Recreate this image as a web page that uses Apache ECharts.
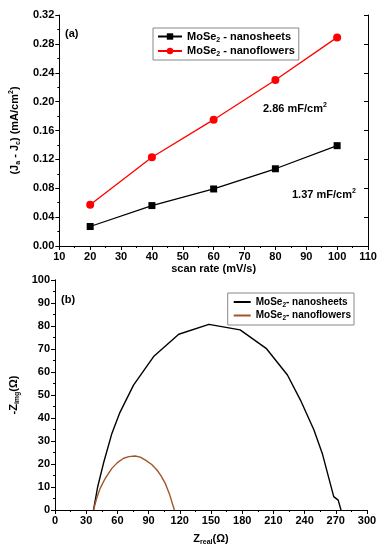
<!DOCTYPE html>
<html><head><meta charset="utf-8">
<script src="https://cdn.jsdelivr.net/npm/echarts@6/dist/echarts.min.js"></script>
<style>html,body{margin:0;padding:0;background:#fff}#c{width:391px;height:550px}</style>
</head><body><div id="c"></div>
<script>
// Panel (a): double-layer capacitance
const scanRates = [20, 40, 60, 80, 100];
const sheetsCdl = [0.027, 0.056, 0.079, 0.107, 0.139];
const flowersCdl = [0.057, 0.123, 0.175, 0.230, 0.289];
// Panel (b): Nyquist plots [Zreal, -Zimg]
const sheetsNyq = [[37,0],[41,10],[46.6,20.3],[54.7,33.3],[62,42],[75.5,54.3],[94.8,66.7],[119,76.4],[148,80.7],[178,78.3],[203,70.3],[223.5,58.7],[236,47.8],[249,34.8],[257,24.6],[268,5.8],[272.3,4.3],[275,0]];
const flowersNyq = [[37,0],[40,5],[43.4,9.4],[48,13.5],[54.7,18.1],[60,20.6],[66,22.5],[71,23.2],[77,23.5],[82,23],[87,21.7],[93,19.8],[98,17.4],[102,14.8],[106,11.6],[110,7],[114.8,0]];
const labelsA = ['2.86 mF/cm', '1.37 mF/cm'];

const FF = 'Liberation Sans';
const base = {fontFamily: FF, fontWeight: 'bold', color: '#000', fontSize: 11};
const rich = {
  n: {fontFamily: FF, fontWeight: 'bold', fontSize: 11, color: '#000', lineHeight: 14},
  s: {fontFamily: FF, fontWeight: 'bold', fontSize: 7, color: '#000', verticalAlign: 'bottom', lineHeight: 14, padding:[4,0,0,0]},
  p: {fontFamily: FF, fontWeight: 'bold', fontSize: 7, color: '#000', verticalAlign: 'top', lineHeight: 14, padding:[0,0,4,0]}
};
const richSmall = {
  n: {fontFamily: FF, fontWeight: 'bold', fontSize: 10, color: '#000', lineHeight: 13},
  s: {fontFamily: FF, fontWeight: 'bold', fontSize: 6.5, color: '#000', verticalAlign: 'bottom', lineHeight: 13, padding:[4,0,0,0]}
};
const axisLine = {show: true, lineStyle: {color: '#000', width: 1}};

function mainAxis(o) {
  return Object.assign({
    type: 'value', axisLine: axisLine,
    axisTick: {show: true, inside: false, length: 4, lineStyle: {color: '#000'}},
    minorTick: {show: true, splitNumber: 2, length: 2, lineStyle: {color: '#000'}},
    splitLine: {show: false},
    axisLabel: Object.assign({margin: 5}, base),
    nameLocation: 'middle', nameTextStyle: Object.assign({rich: rich}, base)
  }, o);
}
function mirror(o) {
  return Object.assign({
    type: 'value', axisLine: axisLine,
    axisTick: {show: true, inside: true, length: 4, lineStyle: {color: '#000'}},
    axisLabel: {show: false}, splitLine: {show: false}
  }, o);
}
const nameMap = {
  'MoSe2 - nanosheets': '{n|MoSe}{s|2}{n| - nanosheets}',
  'MoSe2 - nanoflowers': '{n|MoSe}{s|2}{n| - nanoflowers}',
  'MoSe2- nanosheets': '{n|MoSe}{s|2}{n|- nanosheets}',
  'MoSe2- nanoflowers': '{n|MoSe}{s|2}{n|- nanoflowers}'
};
const legendCommon = {
  orient: 'vertical', backgroundColor: '#fff', borderColor: '#888', borderWidth: 1,
  formatter: n => nameMap[n]
};

const option = {
  animation: false,
  grid: [
    {left: 55, right: 23, top: 15, bottom: 304},
    {left: 55, right: 24, top: 280, bottom: 40}
  ],
  xAxis: [
    mainAxis({gridIndex: 0, min: 10, max: 110, interval: 10, name: 'scan rate (mV/s)', nameGap: 17}),
    mainAxis({gridIndex: 1, min: 0, max: 300, interval: 30, name: '{n|Z}{s|real}{n|(Ω)}', nameGap: 22}),
    mirror({gridIndex: 0, min: 10, max: 110, interval: 10, position: 'top'}),
    mirror({gridIndex: 1, min: 0, max: 300, interval: 30, position: 'top'})
  ],
  yAxis: [
    mainAxis({gridIndex: 0, min: 0, max: 0.32, interval: 0.04, axisLabel: Object.assign({margin: 5, formatter: v => v.toFixed(2)}, base),
      name: '{n|(J}{s|a}{n| - J}{s|c}{n|) (mA/cm}{p|2}{n|)}', nameGap: 34}),
    mainAxis({gridIndex: 1, min: 0, max: 100, interval: 10, name: '{n|-Z}{s|img}{n|(Ω)}', nameGap: 28}),
    mirror({gridIndex: 0, min: 0, max: 0.32, interval: 0.04, position: 'right'}),
    mirror({gridIndex: 1, min: 0, max: 100, interval: 10, position: 'right'})
  ],
  legend: [
    Object.assign({left: 153, top: 28, padding: [3, 4, 2, 4], itemGap: 2, itemWidth: 24, itemHeight: 8,
      textStyle: Object.assign({rich: rich}, base),
      data: ['MoSe2 - nanosheets', 'MoSe2 - nanoflowers']}, legendCommon),
    Object.assign({right: 37, top: 293, padding: [4, 3, 3, 6], itemGap: 2, itemWidth: 17, itemHeight: 2,
      textStyle: Object.assign({rich: richSmall}, base, {fontSize: 10}),
      data: [{name: 'MoSe2- nanosheets', icon: 'rect'}, {name: 'MoSe2- nanoflowers', icon: 'rect'}]}, legendCommon)
  ],
  series: [
    {name: 'MoSe2 - nanosheets', type: 'line', xAxisIndex: 0, yAxisIndex: 0,
      data: scanRates.map((x, i) => [x, sheetsCdl[i]]), symbol: 'rect', symbolSize: 7,
      itemStyle: {color: '#000'}, lineStyle: {color: '#000', width: 1.3}},
    {name: 'MoSe2 - nanoflowers', type: 'line', xAxisIndex: 0, yAxisIndex: 0,
      data: scanRates.map((x, i) => [x, flowersCdl[i]]), symbol: 'circle', symbolSize: 8,
      itemStyle: {color: '#ff0000'}, lineStyle: {color: '#ff0000', width: 1.3}},
    {name: 'MoSe2- nanosheets', type: 'line', xAxisIndex: 1, yAxisIndex: 1,
      data: sheetsNyq, symbol: 'none', itemStyle: {color: '#000'}, lineStyle: {color: '#000', width: 1.4}},
    {name: 'MoSe2- nanoflowers', type: 'line', xAxisIndex: 1, yAxisIndex: 1,
      data: flowersNyq, symbol: 'none', itemStyle: {color: '#a0552a'}, lineStyle: {color: '#a0552a', width: 1.4}}
  ],
  graphic: [
    {type: 'text', left: 65, top: 28, style: {text: '(a)', font: 'bold 11px "Liberation Sans"', fill: '#000'}},
    {type: 'text', left: 61, top: 294, style: {text: '(b)', font: 'bold 11px "Liberation Sans"', fill: '#000'}},
    {type: 'text', left: 263, top: 102, style: {text: '{n|' + labelsA[0] + '}{p|2}', rich: rich}},
    {type: 'text', left: 292, top: 188, style: {text: '{n|' + labelsA[1] + '}{p|2}', rich: rich}}
  ]
};
const chart = echarts.init(document.getElementById('c'), null, {renderer: 'canvas'});
chart.setOption(option);
</script></body></html>
